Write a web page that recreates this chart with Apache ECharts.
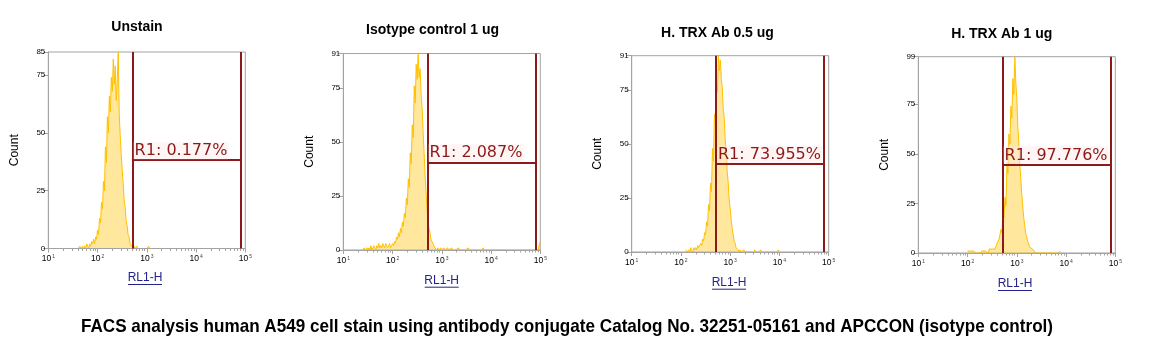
<!DOCTYPE html>
<html><head><meta charset="utf-8">
<script src="https://cdn.jsdelivr.net/npm/echarts@6/dist/echarts.min.js"></script>
<style>html,body{margin:0;padding:0;background:#fff}#c{width:1169px;height:362px}</style>
</head><body><div id="c"></div>
<script>
// ---------------- data ----------------
const panelTitles = ['Unstain', 'Isotype control 1 ug', 'H. TRX Ab 0.5 ug', 'H. TRX Ab 1 ug'];
const xAxisName = 'RL1-H';
const yAxisName = 'Count';
const caption = 'FACS analysis human A549 cell stain using antibody conjugate Catalog No. 32251-05161 and APCCON (isotype control)';
const xMin = 10, xMax = 100000;
const minorTickValues = [20,30,40,50,60,70,80,90,200,300,400,500,600,700,800,900,2000,3000,4000,5000,6000,7000,8000,9000,20000,30000,40000,50000,60000,70000,80000,90000];
const yMax = [85, 91, 91, 99];
const yInterval = 25;

// histogram channels: log10(intensity) of first bin, bins spaced by channelStep decades
const channelStep = 0.02;
const unstainStart = 1.60;
const unstainCounts = [0,0,1,0,0,1,0,1,0,2, 1,0,2,1,3,2,4,2,5,4, 8,6,13,11,20,17,29,25,44,37, 57,50,66,59,74,68,82,71,79,64, 73,85,58,49,41,34,28,21,18,12, 10,6,5,2,2,1,0,1,0,0, 1,0,0,0,0,0,0,0,0,0, 0,0,1,0,0,0];
const isotypeStart = 1.40;
const isotypeCounts = [0,1,0,0,1,0,1,0,2,0, 1,2,1,0,2,1,3,1,2,1, 3,2,1,3,2,1,2,3,1,2,
  3,2,4,3,6,5,8,6,10,8, 13,11,17,15,24,21,33,29,45,40, 58,52,76,68,86,79,91,80,84,72,
  66,55,45,35,27,19,14,10,8,5, 4,3,2,1,1,0,1,0,0,1, 0,0,1,0,0,0,1,0,0,0,
  1,0,0,0,0,0,0,1,0,0, 0,0,0,0,0,0,0,1,0,0, 0,0,0,0,0,0,0,0,0,0, 0,0,1,0,0,0];
const isotypeTopChannel = [[90000, 0], [100000, 4]];
const trx05Start = 2.10;
const trx05Counts = [1,0,0,1,0,2,1,0,2,1, 2,1,3,2,3,4,3,6,5,9,
  8,14,12,22,19,32,28,48,42,64, 58,80,74,91,84,89,80,76,66,62,
  52,46,37,32,24,20,15,11,8,5, 4,2,2,1,0,1,0,0,0,1,
  0,0,0,0,0,0,0,0,0,0, 1,0,0,0,0,0,1,0,0,0,
  0,0,0,0,0,0,0,0,0,0, 0,0,0,0,1,0];
const trx1Start = 2.00;
const trx1Counts = [1,0,0,1,0,0,1,0,0,0, 1,0,0,1,0,1,0,0,1,0,
  1,0,2,1,1,2,1,3,2,3, 5,4,7,6,12,10,22,18,28,24,
  45,40,60,55,74,68,88,80,99,86, 78,64,56,45,38,30,24,18,14,10,
  8,6,5,3,3,2,2,1,1,0, 0,1,0,0,0,0,0,0,0,0,
  0,0,0,0,0,0,0,0,0,0, 0,0,0,0,1,0];

// R1 gate
const gateLow = 515;
const gateHigh = 81000;
const gateCount = [38.2, 40.6, 40.9, 44.7];
const gateLabels = ['R1: 0.177%', 'R1: 2.087%', 'R1: 73.955%', 'R1: 97.776%'];

// ---------------- layout ----------------
const grids = [
  {left: 48.3, top: 52, width: 197, height: 196.5},
  {left: 343.3, top: 53.5, width: 197, height: 196.5},
  {left: 631.7, top: 55.7, width: 197, height: 196.3},
  {left: 918.3, top: 56.7, width: 197, height: 196.3}
];
const titlePos = [[137, 27], [432.5, 30], [717.5, 32.7], [1001.7, 34]];
const xNamePos = [[145, 278], [441.7, 280.7], [729, 282.7], [1015, 284]];
const captionPos = [567, 327];

const HIST = '#FFC000';
const GATE = '#8B1A1A';
const AX = '#a3a3a3';
const FONT = '"Liberation Sans", Arial, sans-serif';

function toSeries(start, counts) {
  return counts.map((c, i) => [Math.pow(10, start + i * channelStep), c]);
}
const histData = [
  toSeries(unstainStart, unstainCounts),
  toSeries(isotypeStart, isotypeCounts).concat(isotypeTopChannel),
  toSeries(trx05Start, trx05Counts),
  toSeries(trx1Start, trx1Counts)
];

const option = {animation: false, grid: [], xAxis: [], yAxis: [], series: [], graphic: []};

for (let i = 0; i < 4; i++) {
  option.grid.push(Object.assign({show: true, borderColor: AX, borderWidth: 1, containLabel: false, outerBoundsMode: 'none'}, grids[i]));
  option.xAxis.push({
    type: 'log', logBase: 10, min: xMin, max: xMax, gridIndex: i, z: 5, position: 'bottom', offset: 0,
    axisLine: {show: true, lineStyle: {color: AX, width: 1}},
    axisTick: {show: true, length: 4, lineStyle: {color: AX}},
    splitLine: {show: false},
    axisLabel: {
      margin: 6,
      formatter: v => '{b|10}{e|' + Math.round(Math.log10(v)) + '}',
      rich: {
        b: {fontSize: 8.5, fontFamily: FONT, color: '#000'},
        e: {fontSize: 5, fontFamily: FONT, color: '#444', verticalAlign: 'top', padding: [0, 0, 0, 1]}
      }
    }
  });
  option.xAxis.push({
    type: 'log', logBase: 10, min: xMin, max: xMax, gridIndex: i, z: 5, position: 'bottom', offset: 0,
    axisLine: {show: false},
    axisTick: {show: true, length: 2.5, customValues: minorTickValues, lineStyle: {color: AX}},
    axisLabel: {show: false}, splitLine: {show: false}
  });
  option.yAxis.push({
    type: 'value', min: 0, max: yMax[i], interval: yInterval, gridIndex: i, z: 5,
    axisLine: {show: true, lineStyle: {color: AX}},
    axisTick: {show: true, length: 5, lineStyle: {color: AX}},
    splitLine: {show: false},
    axisLabel: {fontSize: 8, fontFamily: FONT, color: '#000', margin: 3, showMaxLabel: true, hideOverlap: false},
    name: yAxisName, nameLocation: 'middle', nameGap: 28, nameRotate: 90,
    nameTextStyle: {fontSize: 12, fontFamily: FONT, color: '#000'}
  });
  option.series.push({
    type: 'line', xAxisIndex: i * 2, yAxisIndex: i, data: histData[i],
    symbol: 'none', smooth: false, z: 2,
    lineStyle: {color: HIST, width: 1},
    areaStyle: {color: HIST, opacity: 0.38},
    markLine: {
      silent: true, symbol: ['none', 'none'], animation: false, z: 6,
      lineStyle: {color: GATE, width: 2, type: 'solid'},
      label: {show: false},
      emphasis: {disabled: true},
      data: [
        {xAxis: gateLow},
        {xAxis: gateHigh},
        [
          {coord: [gateLow, gateCount[i]], label: {
            show: true, position: 'insideStartTop', distance: 1, formatter: gateLabels[i],
            color: GATE, fontSize: 16, fontFamily: '"DejaVu Sans", sans-serif',
            backgroundColor: 'rgba(255,236,236,0.5)', padding: [1, 1, 0, 1]
          }},
          {coord: [gateHigh, gateCount[i]]}
        ]
      ]
    }
  });
  option.graphic.push({
    type: 'text', x: titlePos[i][0], y: titlePos[i][1], silent: true,
    style: {text: panelTitles[i], fontSize: 14, fontWeight: 'bold', fontFamily: FONT, fill: '#000', align: 'center', verticalAlign: 'middle'}
  });
  option.graphic.push({
    type: 'text', x: xNamePos[i][0], y: xNamePos[i][1], silent: true,
    style: {text: xAxisName, fontSize: 12, fontFamily: FONT, fill: '#23238a', align: 'center', verticalAlign: 'middle'}
  });
  option.graphic.push({
    type: 'line', silent: true,
    shape: {x1: xNamePos[i][0] - 17, y1: xNamePos[i][1] + 6.5, x2: xNamePos[i][0] + 17, y2: xNamePos[i][1] + 6.5},
    style: {stroke: '#23238a', lineWidth: 1}
  });
}
option.graphic.push({
  type: 'text', x: captionPos[0], y: captionPos[1], silent: true, scaleX: 0.9,
  style: {text: caption, fontSize: 19, fontWeight: 'bold', fontFamily: FONT, fill: '#000', align: 'center', verticalAlign: 'middle'}
});

const chart = echarts.init(document.getElementById('c'), null, {renderer: 'canvas'});
chart.setOption(option);
</script>
</body></html>
